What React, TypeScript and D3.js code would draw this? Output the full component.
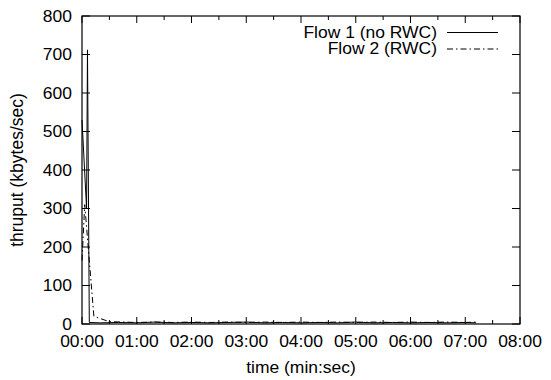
import React from "react";
import * as d3 from "d3";

const W = 551;
const H = 380;

// time in seconds, throughput in kbytes/sec
const flow1Times = [0, 5, 6, 8, 20, 40, 60, 80, 100, 120, 140, 160, 180, 200, 220, 240, 260, 280, 300, 320, 340, 360, 380, 400, 420, 432];
const flow1Values = [530, 300, 712, 4, 3, 4, 3, 5, 3, 4, 3, 4, 5, 3, 4, 3, 4, 3, 5, 3, 4, 3, 4, 3, 4, 3];

const flow2Times = [0, 3, 13, 30, 45, 60, 80, 100, 120, 140, 160, 180, 200, 220, 240, 260, 280, 300, 320, 340, 360, 380, 400, 420, 432];
const flow2Values = [165, 310, 20, 6, 5, 4, 5, 4, 5, 4, 5, 4, 5, 4, 5, 4, 5, 4, 5, 4, 5, 4, 5, 4, 5];

const xTickSeconds = [0, 60, 120, 180, 240, 300, 360, 420, 480];
const xTickLabels = ["00:00", "01:00", "02:00", "03:00", "04:00", "05:00", "06:00", "07:00", "08:00"];
const xMinorSeconds = [30, 90, 150, 210, 270, 330, 390, 450];
const yTicks = [0, 100, 200, 300, 400, 500, 600, 700, 800];

const seriesNames = ["Flow 1 (no RWC)", "Flow 2 (RWC)"];

const M = { left: 82, right: 520, top: 16, bottom: 324 };
const FONT = "'Liberation Sans', Arial, Helvetica, sans-serif";
const FS = 16.4;
const SX = 1.065;

function T(props: { x: number; y: number; anchor: string; dy?: string; children: React.ReactNode }) {
  return (
    <text
      transform={`translate(${props.x},${props.y}) scale(${SX},1)`}
      textAnchor={props.anchor}
      dy={props.dy}
    >
      {props.children}
    </text>
  );
}

export default function App() {
  const x = d3.scaleLinear().domain([0, 480]).range([M.left, M.right]);
  const y = d3.scaleLinear().domain([0, 800]).range([M.bottom, M.top]);

  const line = d3
    .line<[number, number]>()
    .x((d) => x(d[0]))
    .y((d) => y(d[1]));

  const d1 = line(flow1Times.map((t, i) => [t, flow1Values[i]] as [number, number])) || "";
  const d2 = line(flow2Times.map((t, i) => [t, flow2Values[i]] as [number, number])) || "";

  const major = 7;
  const minor = 4;
  const dash = "6,3,1.5,3";

  return (
    <svg
      width={W}
      height={H}
      style={{ position: "absolute", left: 0, top: 0, background: "#fff" }}
      fontFamily={FONT}
    >
      <rect x={0} y={0} width={W} height={H} fill="#fff" />
      {/* ticks */}
      <g stroke="#000" strokeWidth={1}>
        {xTickSeconds.map((s) => (
          <g key={"xt" + s}>
            <line x1={x(s)} x2={x(s)} y1={M.bottom} y2={M.bottom - major} />
            <line x1={x(s)} x2={x(s)} y1={M.top} y2={M.top + major} />
          </g>
        ))}
        {xMinorSeconds.map((s) => (
          <g key={"xm" + s}>
            <line x1={x(s)} x2={x(s)} y1={M.bottom} y2={M.bottom - minor} />
            <line x1={x(s)} x2={x(s)} y1={M.top} y2={M.top + minor} />
          </g>
        ))}
        {yTicks.map((v) => (
          <g key={"yt" + v}>
            <line x1={M.left} x2={M.left + major + 1} y1={y(v)} y2={y(v)} />
            <line x1={M.right} x2={M.right - major - 1} y1={y(v)} y2={y(v)} />
          </g>
        ))}
      </g>
      {/* data */}
      <path d={d2} fill="none" stroke="#000" strokeWidth={1} strokeDasharray={dash} />
      <path d={d1} fill="none" stroke="#000" strokeWidth={1} />
      {/* border */}
      <rect
        x={M.left}
        y={M.top}
        width={M.right - M.left}
        height={M.bottom - M.top}
        fill="none"
        stroke="#000"
        strokeWidth={1.2}
      />
      {/* tick labels */}
      <g fontSize={FS} fill="#000">
        {yTicks.map((v) => (
          <T key={"yl" + v} x={M.left - 10} y={y(v)} dy="0.35em" anchor="end">
            {v}
          </T>
        ))}
        {xTickSeconds.map((s, i) => (
          <T key={"xl" + s} x={x(s)} y={347} anchor="middle">
            {xTickLabels[i]}
          </T>
        ))}
        <T x={(M.left + M.right) / 2} y={373} anchor="middle">
          time (min:sec)
        </T>
        <text
          transform={`translate(23, ${(M.top + M.bottom) / 2}) rotate(-90)`}
          textAnchor="middle"
          fontSize={17.5}
        >
          thruput (kbytes/sec)
        </text>
      </g>
      {/* legend */}
      <g fontSize={FS} fill="#000">
        <T x={437} y={37.5} anchor="end">
          {seriesNames[0]}
        </T>
        <line x1={447} x2={498} y1={32.5} y2={32.5} stroke="#000" strokeWidth={1} />
        <T x={437} y={54} anchor="end">
          {seriesNames[1]}
        </T>
        <line x1={447} x2={498} y1={49} y2={49} stroke="#000" strokeWidth={1} strokeDasharray={dash} />
      </g>
    </svg>
  );
}
